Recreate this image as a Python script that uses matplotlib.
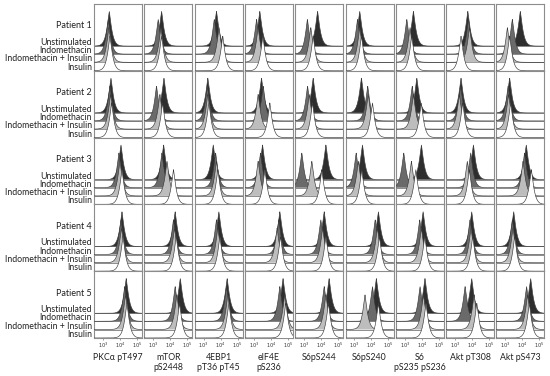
import numpy as np
import matplotlib.pyplot as plt

plt.rcParams['font.family'] = ['Lato', 'DejaVu Sans']

# chart data: peak position (log10 intensity) of each histogram
markers = ["PKC\u03b1 pT497", "mTOR\npS2448", "4EBP1\npT36 pT45", "eIF4E\npS236",
           "S6pS244", "S6pS240", "S6\npS235 pS236", "Akt pT308", "Akt pS473"]
patients = ["Patient 1", "Patient 2", "Patient 3", "Patient 4", "Patient 5"]
conditions = ["Unstimulated", "Indomethacin", "Indomethacin + Insulin", "Insulin"]

unstimulated = [
    [3.37, 3.49, 3.76, 3.35, 3.79, 3.31, 3.51, 3.75, 3.88],
    [3.47, 3.63, 3.25, 3.45, 3.53, 3.41, 3.71, 3.35, 3.25],
    [4.06, 3.61, 3.57, 3.51, 4.28, 3.47, 3.98, 4.08, 4.23],
    [4.12, 4.29, 3.90, 4.53, 4.18, 4.41, 4.08, 3.98, 3.49],
    [4.37, 4.59, 4.39, 4.72, 4.47, 4.29, 4.19, 3.98, 4.49],
]
indomethacin = [
    [3.31, 3.29, 3.63, 3.16, 3.19, 3.18, 3.12, 3.79, 3.41],
    [3.41, 3.19, 3.22, 3.55, 3.20, 3.78, 3.44, 3.33, 3.16],
    [3.94, 3.51, 3.71, 3.39, 2.86, 3.10, 2.94, 3.92, 4.13],
    [4.06, 4.19, 3.76, 4.47, 3.98, 4.22, 3.88, 3.88, 3.41],
    [4.28, 4.29, 4.35, 4.53, 4.18, 4.06, 3.90, 3.59, 4.25],
]
indo_insulin = [
    [3.35, 3.45, 3.91, 3.25, 3.39, 3.31, 3.31, 3.85, 3.12],
    [3.45, 3.39, 3.25, 3.25, 3.30, 3.81, 3.51, 3.25, 3.19],
    [4.00, 3.81, 3.76, 3.25, 3.45, 3.23, 3.39, 3.72, 4.04],
    [4.09, 4.25, 3.84, 4.37, 4.09, 4.35, 3.98, 3.94, 3.45],
    [4.33, 4.39, 4.43, 4.82, 4.28, 3.62, 4.10, 4.12, 4.31],
]
insulin = [
    [3.41, 3.49, 4.13, 3.53, 3.53, 3.41, 3.41, 3.35, 3.25],
    [3.51, 3.55, 3.31, 3.94, 3.49, 4.06, 3.97, 3.45, 3.31],
    [4.12, 4.19, 3.84, 3.65, 4.04, 3.43, 3.65, 3.84, 4.53],
    [4.18, 4.35, 3.96, 4.57, 4.28, 4.47, 4.18, 4.04, 3.55],
    [4.41, 4.55, 4.49, 4.88, 4.43, 4.41, 4.25, 4.28, 4.41],
]
tick_vals = [3, 4, 5]

series = [unstimulated, indomethacin, indo_insulin, insulin]
fills = ["#2e2e2e", "#6a6a6a", "#bdbdbd", "#ffffff"]
baselines = [0.37, 0.25, 0.127, 0.0]
peak_h = 0.52


def peak(x, c):
    # sharp mode, normalised to mode
    d = np.abs(x - c)
    return np.exp(-(d / 0.19) ** 1.2)


W, H = 550, 376
fig = plt.figure(figsize=(W / 100, H / 100), dpi=100)
x = np.linspace(2.47, 5.3, 600)

col_left, col_step, col_w = 94, 50.3, 48
row_top, row_h = 4, 66.8

for r in range(len(patients)):
    for c in range(len(markers)):
        rect = [(col_left + col_step * c) / W,
                1 - (row_top + row_h * (r + 1)) / H,
                col_w / W, row_h / H]
        ax = fig.add_axes(rect)
        for k in range(4):
            b = baselines[k]
            y = b + peak_h * peak(x, series[k][r][c])
            ax.axhline(b, color="#8c8c8c", lw=0.7, zorder=3 * k)
            ax.fill_between(x, b, y, facecolor=fills[k], lw=0, zorder=3 * k + 1)
            ax.plot(x, y, color="#3a3a3a", lw=0.45, zorder=3 * k + 2)
        ax.set_xlim(2.47, 5.3)
        ax.set_ylim(0, 1)
        for s in ax.spines.values():
            s.set_color("#8c8c8c")
            s.set_linewidth(0.8)
        ax.set_yticks([])
        if r == len(patients) - 1:
            ax.set_xticks(tick_vals)
            ax.set_xticklabels([r"$10^{%d}$" % t for t in tick_vals], fontsize=3.6,
                               color="#333333")
            ax.tick_params(axis="x", length=1.2, width=0.4, pad=0.6, color="#555555")
            ax.text(0.5, -0.22, markers[c], transform=ax.transAxes, ha="center",
                    va="top", fontsize=6.3, linespacing=1.25, color="#222222")
        else:
            ax.set_xticks([])

# row labels on the left
for r, p in enumerate(patients):
    top = row_top + row_h * r
    fig.text(92 / W, 1 - (top + 22) / H, p, ha="right", va="center",
             fontsize=6.5, color="#222222")
    for k, cond in enumerate(conditions):
        yb = top + row_h * (1 - baselines[k])
        fig.text(92 / W, 1 - (yb - 3.5) / H, cond, ha="right", va="center",
                 fontsize=6.3, color="#222222")

fig.savefig("out.png", dpi=100)
